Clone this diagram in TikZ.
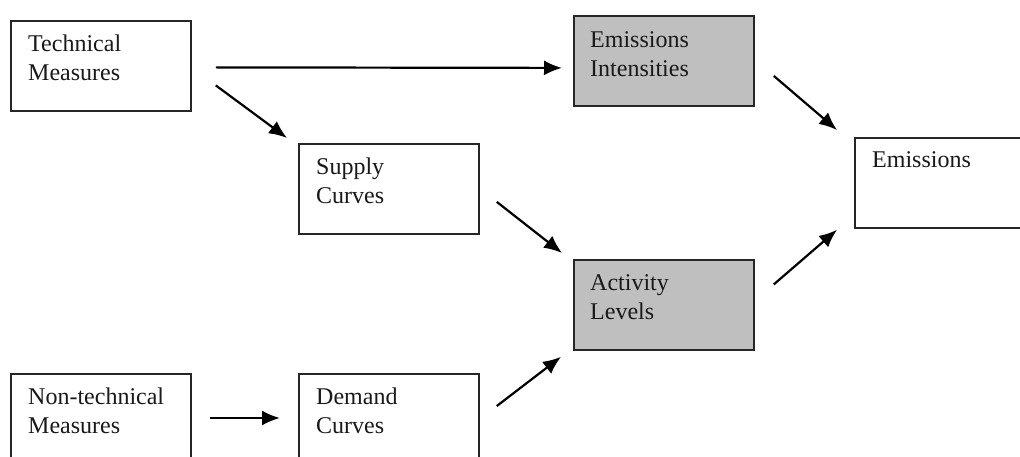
\documentclass[tikz,border=0pt]{standalone}
\usepackage{fontspec}
\setmainfont{Liberation Serif}
\usetikzlibrary{arrows.meta}
\tikzset{
  box/.style={draw=black!85, line width=1.8pt, anchor=north west, inner sep=0pt,
              minimum width=180pt, minimum height=90pt},
  shaded/.style={box, fill=black!25},
  lbl/.style={anchor=base west, inner sep=0pt, text=black!90,
              font=\fontsize{24}{29}\selectfont},
  arr/.style={line width=2.2pt, draw=black, -{Latex[length=18pt,width=15pt]}}
}
\newcommand{\twolines}[2]{\parbox[t]{160pt}{#1\\#2}}
\begin{document}
\begin{tikzpicture}[x=1pt, y=-1pt]
  \fill[white] (0,0) rectangle (1020,457);
  \useasboundingbox (0,0) rectangle (1020,457);
  \clip (0,0) rectangle (1020,457);

  % boxes
  \node[box]    (tm)  at (10,20)   {};
  \node[shaded] (ei)  at (573,15)  {};
  \node[box]    (sc)  at (298,143) {};
  \node[shaded] (al)  at (573,259) {};
  \node[box, minimum width=190pt] (em) at (854,137) {};
  \node[box, minimum height=100pt] (ntm) at (10,373)  {};
  \node[box, minimum height=100pt] (dc)  at (298,373) {};

  % labels
  \node[lbl] (tmt)  at ([shift={(18,32)}]tm.north west)  {\twolines{Technical}{Measures}};
  \node[lbl] (eit)  at ([shift={(17,33)}]ei.north west)  {\twolines{Emissions}{Intensities}};
  \node[lbl] (sct)  at ([shift={(18,32)}]sc.north west)  {\twolines{Supply}{Curves}};
  \node[lbl] (alt)  at ([shift={(17,31)}]al.north west)  {\twolines{Activity}{Levels}};
  \node[lbl] (emt)  at ([shift={(18,31)}]em.north west)  {Emissions};
  \node[lbl] (ntmt) at ([shift={(18,31)}]ntm.north west) {\twolines{Non-technical}{Measures}};
  \node[lbl] (dct)  at ([shift={(18,31)}]dc.north west)  {\twolines{Demand}{Curves}};

  % connectors
  \draw[arr] ([shift={(24,1.5)}]tm.east)  -- ([shift={(-11,7)}]ei.west);
  \draw[arr] ([shift={(24,19.5)}]tm.east) -- ([shift={(-11,-5)}]sc.north west);
  \draw[arr] ([shift={(19,15)}]ei.east)   -- ([shift={(-17,-7)}]em.north west);
  \draw[arr] ([shift={(17,13)}]sc.east)   -- ([shift={(-11,-6)}]al.north west);
  \draw[arr] ([shift={(17,33)}]dc.north east) -- ([shift={(-12,6)}]al.south west);
  \draw[arr] ([shift={(19,-20.5)}]al.east) -- ([shift={(-17,1)}]em.south west);
  \draw[arr] ([shift={(18,45)}]ntm.north east) -- ([shift={(-18,45)}]dc.north west);
\end{tikzpicture}
\end{document}
